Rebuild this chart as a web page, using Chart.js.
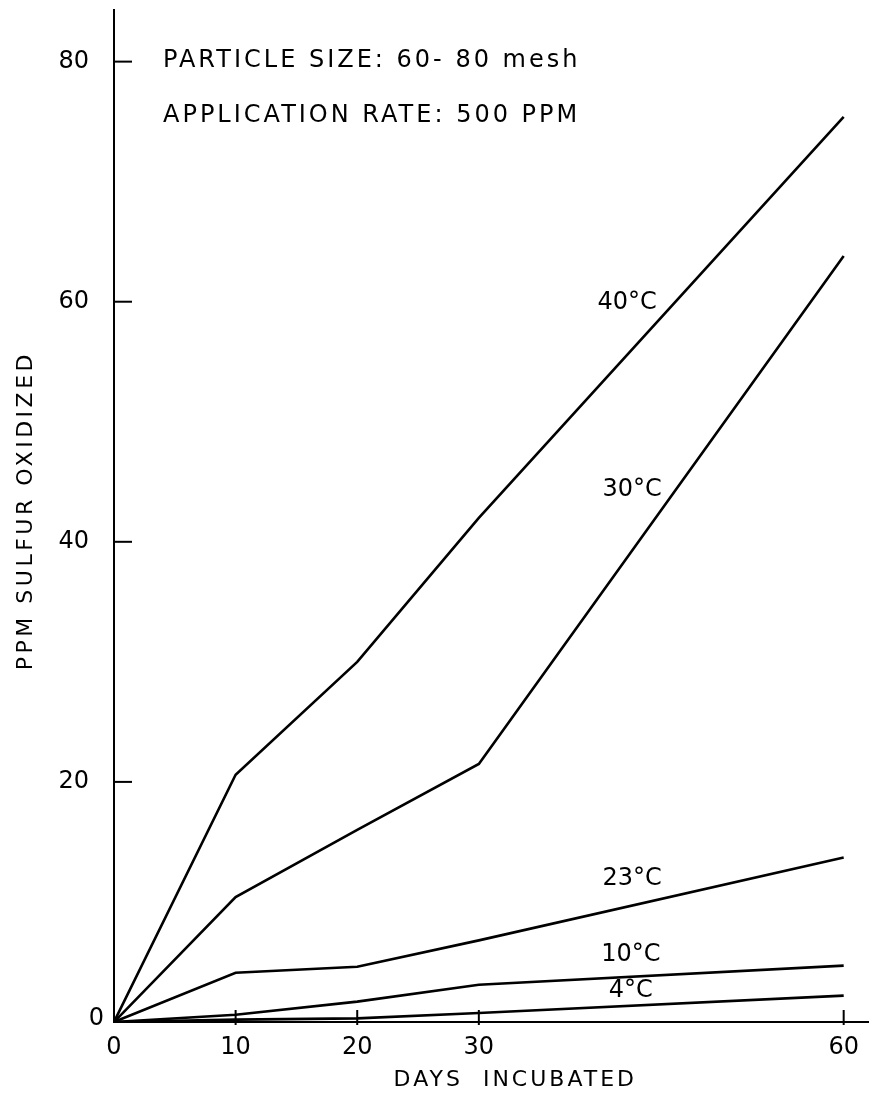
<!DOCTYPE html>
<html>
<head>
<meta charset="utf-8">
<script src="https://cdn.jsdelivr.net/npm/chart.js@4"></script>
<style>
  html, body { margin: 0; padding: 0; background: #fff; }
  #wrap { width: 871px; height: 1095px; }
</style>
</head>
<body>
<div id="wrap"><canvas id="sulfurChart" width="871" height="1095"></canvas></div>
<script>
// days of incubation (x) and ppm sulfur oxidized per temperature
const days = [0, 10, 20, 30, 60];
const temp40 = [0, 20.6, 30, 42, 75.4];
const temp30 = [0, 10.4, 16, 21.5, 63.8];
const temp23 = [0, 4.1, 4.6, 6.8, 13.7];
const temp10 = [0, 0.6, 1.7, 3.1, 4.7];
const temp4 = [0, 0.2, 0.3, 0.75, 2.2];

const seriesNames = ['40°C', '30°C', '23°C', '10°C', '4°C'];
const seriesValues = [temp40, temp30, temp23, temp10, temp4];

const xTicks = [0, 10, 20, 30, 60];
const yTicks = [0, 20, 40, 60, 80];

const noteLines = ['PARTICLE SIZE: 60- 80 mesh', 'APPLICATION RATE: 500 PPM'];
const xTitle = 'DAYS  INCUBATED';
const yTitle = 'PPM SULFUR OXIDIZED';

const FONT = '"DejaVu Sans", sans-serif';

// where each curve name sits, in data units (x, y)
const labelSpots = {
  '40°C': [42.2, 59.9],
  '30°C': [42.6, 44.3],
  '23°C': [42.6, 11.9],
  '10°C': [42.5, 5.6],
  '4°C':  [42.5, 2.6]
};

const paperPlugin = {
  id: 'paper',
  afterDraw(chart) {
    const ctx = chart.ctx;
    const xs = chart.scales.x;
    const ys = chart.scales.y;
    const x0 = xs.getPixelForValue(0);
    const y0 = ys.getPixelForValue(0);
    ctx.save();
    ctx.strokeStyle = '#000';
    ctx.fillStyle = '#000';
    ctx.lineWidth = 2;

    // inward tick marks
    yTicks.forEach(v => {
      if (v === 0) return;
      const py = ys.getPixelForValue(v);
      ctx.beginPath();
      ctx.moveTo(x0, py);
      ctx.lineTo(x0 + 18, py);
      ctx.stroke();
    });
    xTicks.forEach(v => {
      if (v === 0) return;
      const px = xs.getPixelForValue(v);
      ctx.beginPath();
      ctx.moveTo(px, y0 + 3);
      ctx.lineTo(px, y0 - 12);
      ctx.stroke();
    });

    // tick labels
    ctx.font = '24px ' + FONT;
    ctx.textBaseline = 'middle';
    ctx.textAlign = 'right';
    yTicks.forEach(v => {
      const py = ys.getPixelForValue(v);
      if (v === 0) ctx.fillText('0', x0 - 10, py - 3);
      else ctx.fillText(String(v), x0 - 25, py);
    });
    ctx.textAlign = 'center';
    xTicks.forEach(v => {
      ctx.fillText(String(v), xs.getPixelForValue(v), y0 + 26);
    });

    // axis titles
    ctx.font = '22px ' + FONT;
    ctx.letterSpacing = '3px';
    ctx.fillText(xTitle, xs.getPixelForValue(33), y0 + 58);
    ctx.save();
    ctx.translate(26, ys.getPixelForValue(42.6));
    ctx.rotate(-Math.PI / 2);
    ctx.font = '22px ' + FONT;
    ctx.letterSpacing = '3.5px';
    ctx.fillText(yTitle, 0, 0);
    ctx.restore();

    // notes at the top
    ctx.font = '24px ' + FONT;
    ctx.letterSpacing = '3px';
    ctx.textAlign = 'left';
    ctx.fillText(noteLines[0], 163, 61);
    ctx.fillText(noteLines[1], 163, 116);

    // curve names
    ctx.font = '24px ' + FONT;
    ctx.letterSpacing = '0px';
    ctx.textAlign = 'center';
    seriesNames.forEach(name => {
      const spot = labelSpots[name];
      ctx.fillText(name, xs.getPixelForValue(spot[0]), ys.getPixelForValue(spot[1]));
    });
    ctx.restore();
  }
};

const datasets = seriesNames.map((name, i) => ({
  label: name,
  data: days.map((d, j) => ({ x: d, y: seriesValues[i][j] })),
  borderColor: '#000',
  borderWidth: 2.6,
  pointRadius: 0,
  tension: 0,
  fill: false
}));

new Chart(document.getElementById('sulfurChart').getContext('2d'), {
  type: 'line',
  data: { datasets },
  options: {
    responsive: false,
    animation: false,
    layout: { padding: { left: 114, right: 3, top: 10, bottom: 73 } },
    plugins: { legend: { display: false }, tooltip: { enabled: false } },
    scales: {
      x: {
        type: 'linear',
        min: 0,
        max: 62,
        afterBuildTicks: axis => { axis.ticks = xTicks.map(v => ({ value: v })); },
        ticks: { display: false },
        grid: { display: false, drawTicks: false },
        border: { display: true, color: '#000', width: 2 }
      },
      y: {
        type: 'linear',
        min: 0,
        max: 84.3,
        afterBuildTicks: axis => { axis.ticks = yTicks.map(v => ({ value: v })); },
        ticks: { display: false },
        grid: { display: false, drawTicks: false },
        border: { display: true, color: '#000', width: 2 }
      }
    }
  },
  plugins: [paperPlugin]
});
</script>
</body>
</html>
